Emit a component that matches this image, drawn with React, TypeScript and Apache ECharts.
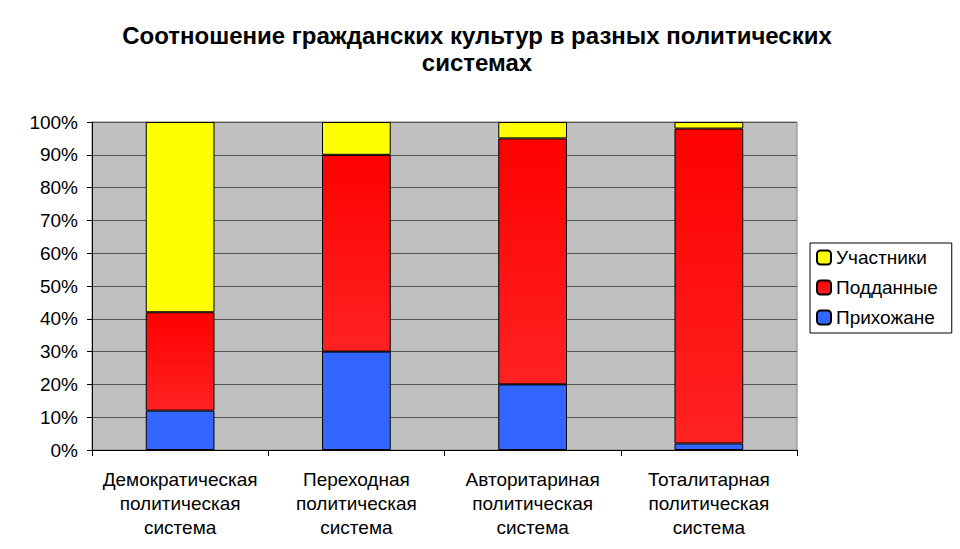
import React, { useEffect, useRef } from "react";
import * as echarts from "echarts";

const categories = [
  "Демократическая\nполитическая\nсистема",
  "Переходная\nполитическая\nсистема",
  "Авторитариная\nполитическая\nсистема",
  "Тоталитарная\nполитическая\nсистема",
];
const parishioners = [12, 30, 20, 2];
const subjects = [30, 60, 75, 96];
const participants = [58, 10, 5, 2];
const legendOrder = ["Участники", "Подданные", "Прихожане"];

export default function App() {
  const ref = useRef<HTMLDivElement>(null);
  useEffect(() => {
    document.body.style.margin = "0";
    const chart = echarts.init(ref.current!, null, { renderer: "svg" });
    const font = "'Liberation Sans', Arial, sans-serif";
    const barStyle = { borderColor: "#000", borderWidth: 1 };
    chart.setOption({
      animation: false,
      backgroundColor: "#fff",
      textStyle: { fontFamily: font },
      title: {
        text: "Соотношение гражданских культур в разных политических\nсистемах",
        left: 472,
        top: 17,
        textAlign: "center",
        textStyle: { fontSize: 24, fontWeight: "bold", color: "#000", lineHeight: 27, fontFamily: font },
      },
      legend: {
        orient: "vertical",
        left: 810,
        top: 243,
        data: legendOrder,
        itemWidth: 14,
        itemHeight: 14,
        itemGap: 11,
        padding: [5, 14, 6, 6],
        borderColor: "#000",
        borderWidth: 1,
        backgroundColor: "#fff",
        textStyle: { fontSize: 19, color: "#000", fontFamily: font },
      },
      grid: {
        left: 92,
        right: 163,
        top: 122,
        bottom: 99,
        show: true,
        backgroundColor: "#C0C0C0",
        borderColor: "#808080",
        borderWidth: 1,
      },
      xAxis: {
        type: "category",
        data: categories,
        axisLine: { lineStyle: { color: "#000" } },
        axisTick: { show: true, interval: 0, alignWithLabel: false, length: 6, lineStyle: { color: "#000" } },
        axisLabel: { interval: 0, fontSize: 19, color: "#000", lineHeight: 24, margin: 17, fontFamily: font },
      },
      yAxis: {
        type: "value",
        min: 0,
        max: 100,
        interval: 10,
        axisLine: { show: true, lineStyle: { color: "#000" } },
        axisTick: { show: true, length: 5, lineStyle: { color: "#000" } },
        axisLabel: { formatter: "{value}%", fontSize: 19, color: "#000", margin: 14, fontFamily: font },
        splitLine: { lineStyle: { color: "#555", width: 1 } },
      },
      series: [
        {
          name: "Прихожане",
          type: "bar",
          stack: "all",
          barWidth: "39%",
          data: parishioners,
          itemStyle: { color: "#3366FF", ...barStyle },
        },
        {
          name: "Подданные",
          type: "bar",
          stack: "all",
          data: subjects,
          itemStyle: {
            color: new echarts.graphic.LinearGradient(0, 0, 0, 1, [
              { offset: 0, color: "#FF0000" },
              { offset: 1, color: "#FF2222" },
            ]),
            ...barStyle,
          },
        },
        {
          name: "Участники",
          type: "bar",
          stack: "all",
          data: participants,
          itemStyle: { color: "#FFFF00", ...barStyle },
        },
      ],
    });
    return () => chart.dispose();
  }, []);
  return <div ref={ref} style={{ width: 960, height: 549, position: "absolute", left: 0, top: 0 }} />;
}
